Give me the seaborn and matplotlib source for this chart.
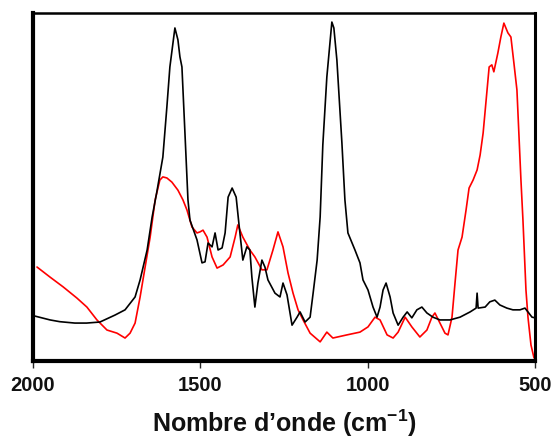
import numpy as np
import pandas as pd
import matplotlib
matplotlib.use("Agg")
import matplotlib.pyplot as plt
import seaborn as sns

# --------------------------------
# Spectrum data
# --------------------------------
black_wn = [1994, 1949, 1920, 1875, 1840, 1800, 1755, 1725, 1695, 1680,
            1659, 1644, 1630, 1612, 1600, 1591, 1576, 1567, 1561, 1555,
            1546, 1537, 1531, 1510, 1495, 1486, 1477, 1465, 1456, 1447,
            1435, 1426, 1417, 1405, 1393, 1385, 1373, 1361, 1352, 1346,
            1337, 1328, 1316, 1307, 1298, 1277, 1262, 1253, 1241, 1226,
            1211, 1202, 1187, 1172, 1163, 1151, 1142, 1134, 1122, 1107,
            1101, 1092, 1077, 1068, 1059, 1038, 1023, 1014, 999, 984,
            972, 963, 954, 945, 933, 924, 909, 894, 882, 868,
            853, 838, 823, 805, 784, 754, 724, 694, 676, 673,
            670, 649, 635, 620, 605, 584, 566, 545, 530, 521,
            509, 500]
black_int = [12.9, 11.8, 11.3, 10.9, 10.9, 11.2, 13.2, 14.7, 18.4, 23.3,
             31.9, 41.4, 48.6, 58.6, 73.0, 84.5, 95.7, 92.3, 87.4, 84.5,
             65.5, 46.3, 40.5, 34.8, 28.2, 28.5, 33.9, 32.8, 36.8, 31.9,
             32.5, 36.8, 47.1, 49.7, 47.1, 39.7, 29.0, 32.8, 31.9, 24.1,
             15.5, 22.4, 29.0, 27.0, 23.3, 19.5, 18.4, 22.4, 19.0, 10.3,
             12.6, 14.1, 11.2, 12.6, 19.5, 29.0, 41.4, 62.1, 81.6, 97.4,
             95.7, 86.5, 62.7, 46.3, 36.8, 31.9, 28.2, 23.3, 20.4, 15.5,
             12.6, 15.5, 20.4, 22.4, 18.4, 13.8, 10.3, 12.6, 14.1, 12.4,
             14.7, 15.5, 13.8, 12.6, 11.8, 11.8, 12.6, 14.1, 15.2, 19.5,
             15.2, 15.5, 17.0, 17.5, 16.1, 15.2, 14.7, 14.7, 15.2, 14.1,
             12.6, 12.4]

red_wn = [1988, 1949, 1910, 1869, 1839, 1809, 1779, 1749, 1725, 1710,
          1695, 1680, 1665, 1650, 1635, 1621, 1612, 1600, 1585, 1567,
          1552, 1540, 1525, 1510, 1501, 1492, 1480, 1465, 1450, 1432,
          1411, 1396, 1388, 1373, 1352, 1337, 1316, 1301, 1283, 1268,
          1253, 1238, 1223, 1208, 1193, 1172, 1142, 1122, 1104, 1062,
          1023, 999, 978, 963, 942, 924, 909, 888, 868, 844,
          823, 808, 799, 784, 769, 760, 748, 739, 730, 718,
          706, 697, 685, 673, 664, 655, 646, 637, 629, 623,
          611, 602, 593, 581, 572, 563, 554, 548, 542, 536,
          527, 521, 512, 503]
red_int = [27.0, 24.1, 21.3, 18.1, 15.5, 11.8, 8.9, 8.0, 6.6, 8.0,
           10.9, 18.4, 27.0, 35.6, 46.3, 52.0, 52.9, 52.6, 51.4, 49.1,
           46.3, 43.4, 38.5, 36.8, 37.1, 37.6, 35.6, 29.9, 26.7, 27.6,
           29.9, 35.6, 39.1, 35.6, 31.9, 29.9, 26.2, 26.2, 31.9, 37.1,
           32.8, 25.3, 19.5, 14.7, 11.8, 8.0, 5.5, 8.3, 6.6, 7.5,
           8.3, 9.8, 12.6, 11.8, 7.5, 6.6, 8.3, 12.6, 9.8, 6.9,
           8.9, 12.6, 13.8, 10.9, 8.0, 7.5, 12.6, 22.4, 31.9, 35.6,
           43.4, 49.7, 52.0, 54.9, 59.2, 65.5, 75.0, 84.5, 85.1, 83.1,
           88.5, 93.1, 97.1, 94.3, 93.1, 85.6, 77.9, 65.0, 52.0, 40.5,
           20.4, 12.6, 4.6, 0.9]

XTICKS = [2000, 1500, 1000, 500]


def main():
    sns.set_style("white")
    plt.rcParams["font.family"] = ["Liberation Sans", "DejaVu Sans"]
    plt.rcParams["mathtext.fontset"] = "custom"
    plt.rcParams["mathtext.rm"] = "Liberation Sans"
    plt.rcParams["mathtext.bf"] = "Liberation Sans:bold"

    df_black = pd.DataFrame({"wn": black_wn, "intensity": black_int})
    df_red = pd.DataFrame({"wn": red_wn, "intensity": red_int})

    fig = plt.figure(figsize=(5.52, 4.38), dpi=100)
    ax = fig.add_axes([0.0598, 0.1758, 0.9094, 0.7945])

    sns.lineplot(data=df_red, x="wn", y="intensity", color="#ff0000",
                 linewidth=1.2, sort=False, ax=ax)
    sns.lineplot(data=df_black, x="wn", y="intensity", color="black",
                 linewidth=1.2, sort=False, ax=ax)

    ax.set_xlim(2000, 500)
    ax.set_ylim(0, 100)
    ax.set_xticks(XTICKS)
    ax.set_xticklabels([str(t) for t in XTICKS], fontsize=14.5,
                       fontweight="bold", color="#111111")
    ax.set_yticks([])
    ax.tick_params(axis="x", direction="out", length=5, width=1,
                   pad=6, bottom=True)

    ax.set_xlabel("Nombre d\u2019onde (cm$^{\\mathbf{-1}}$)",
                  fontsize=18, fontweight="bold", labelpad=9,
                  color="#111111")
    ax.set_ylabel("")

    ax.spines["left"].set_linewidth(3.0)
    ax.spines["bottom"].set_linewidth(3.0)
    ax.spines["right"].set_linewidth(2.2)
    ax.spines["top"].set_linewidth(1.8)
    for s in ax.spines.values():
        s.set_color("black")

    fig.savefig("out.png", dpi=100)
    plt.close(fig)


if __name__ == "__main__":
    main()
